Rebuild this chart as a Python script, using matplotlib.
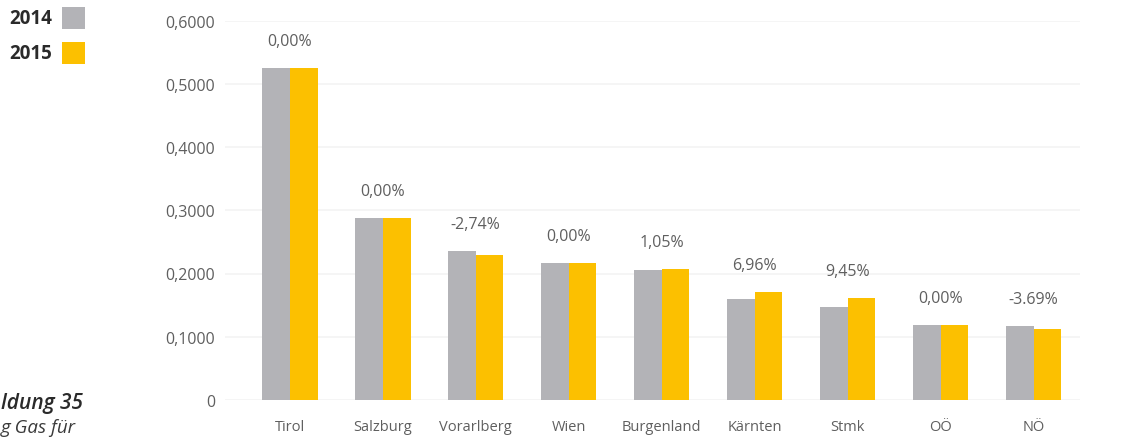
import matplotlib
matplotlib.use("Agg")
import matplotlib.pyplot as plt
from matplotlib.patches import Rectangle
import numpy as np

plt.rcParams['font.family'] = ['Open Sans', 'DejaVu Sans']

# Regions and tariff values per year
regions = ["Tirol", "Salzburg", "Vorarlberg", "Wien", "Burgenland",
           "Kärnten", "Stmk", "OÖ", "NÖ"]
values_2014 = [0.525, 0.288, 0.2355, 0.217, 0.205, 0.160, 0.147, 0.119, 0.117]
values_2015 = [0.525, 0.288, 0.2290, 0.217, 0.2072, 0.1711, 0.1609, 0.119, 0.1127]
change_labels = ["0,00%", "0,00%", "-2,74%", "0,00%", "1,05%",
                 "6,96%", "9,45%", "0,00%", "-3.69%"]
y_ticks = [0, 0.1, 0.2, 0.3, 0.4, 0.5, 0.6]
y_tick_labels = ["0", "0,1000", "0,2000", "0,3000", "0,4000", "0,5000", "0,6000"]
series_names = ["2014", "2015"]

GREY = "#b3b3b7"
YELLOW = "#fcc000"
TEXT = "#5f5f5f"

W, H = 1124, 439
fig = plt.figure(figsize=(W / 100, H / 100), dpi=100)
fig.patch.set_facecolor("white")

left, right, bottom, top = 225, 1080, 401, 21.5
ax = fig.add_axes([left / W, 1 - bottom / H, (right - left) / W, (bottom - top) / H])

x = np.arange(len(regions))
bw = 0.30
ax.bar(x - bw / 2, values_2014, width=bw, color=GREY, linewidth=0, zorder=2)
ax.bar(x + bw / 2, values_2015, width=bw, color=YELLOW, linewidth=0, zorder=2)

for xi, a, b, lab in zip(x, values_2014, values_2015, change_labels):
    ax.annotate(lab, (xi, max(a, b)), xytext=(0, 27), textcoords="offset pixels",
                ha="center", va="center", fontsize=11.5, color=TEXT)

ax.set_xlim(-0.695, 8.5)
ax.set_ylim(0, 0.6)
ax.set_yticks(y_ticks)
ax.set_yticklabels(y_tick_labels)
ax.set_xticks(x)
ax.set_xticklabels(regions)
ax.tick_params(axis="y", length=0, pad=7, labelsize=11.5, labelcolor=TEXT)
ax.tick_params(axis="x", length=0, pad=14, labelsize=10.5, labelcolor=TEXT)
for s in ax.spines.values():
    s.set_visible(False)
ax.grid(axis="y", color="#f3f3f3", linewidth=1.2, zorder=0)
ax.set_axisbelow(True)

# Legend: label text followed by a colour square
for i, (name, col) in enumerate(zip(series_names, [GREY, YELLOW])):
    yc = 19 + 35 * i
    fig.text(9 / W, 1 - yc / H, name, ha="left", va="center",
             fontsize=13.5, fontweight="bold", color="#2a2a2a")
    fig.patches.append(Rectangle((62 / W, 1 - (yc + 11) / H), 23 / W, 22 / H,
                                 transform=fig.transFigure, facecolor=col,
                                 edgecolor="none", figure=fig))

# Caption fragment at the left margin
fig.text(1 / W, 1 - 404 / H, "ldung 35", ha="left", va="center",
         fontsize=15, fontweight="semibold", fontstyle="italic", color="#2a2a2a")
fig.text(1 / W, 1 - 428 / H, "g Gas für", ha="left", va="center",
         fontsize=13.5, fontstyle="italic", color="#3a3a3a")

fig.savefig("out.png", dpi=100, facecolor="white")
